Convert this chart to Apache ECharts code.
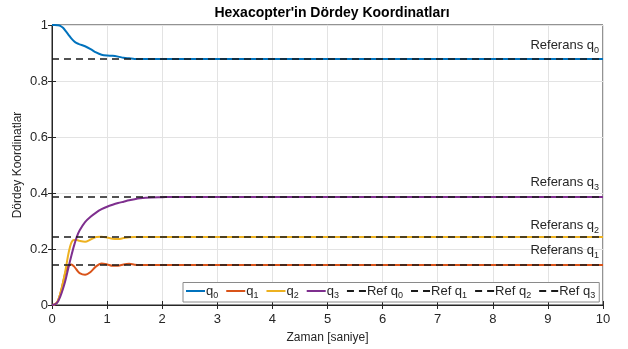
<!DOCTYPE html>
<html><head><meta charset="utf-8">
<script src="https://cdn.jsdelivr.net/npm/echarts@6/dist/echarts.min.js"></script>
<style>html,body{margin:0;padding:0;background:#fff}#c{width:628px;height:349px}</style>
</head><body><div id="c"></div>
<script>
const titleText = "Hexacopter'in Dördey Koordinatları";
const xName = 'Zaman [saniye]';
const yName = 'Dördey Koordinatlar';
const time = [0,0.05,0.1,0.15,0.2,0.25,0.3,0.35,0.4,0.45,0.5,0.6,0.7,0.8,0.9,1.0,1.1,1.2,1.3,1.4,1.5,1.6,1.8,2.0,2.2,2.5,3,4,5,6,7,8,9,10];
const q0 = [1,1,0.999,0.997,0.99,0.978,0.965,0.952,0.942,0.935,0.931,0.924,0.914,0.902,0.894,0.891,0.89,0.887,0.883,0.881,0.879,0.879,0.879,0.879,0.879,0.879,0.879,0.879,0.879,0.879,0.879,0.879,0.879,0.879];
const q1 = [0,0.002,0.012,0.04,0.08,0.12,0.14,0.145,0.138,0.125,0.114,0.108,0.118,0.138,0.148,0.145,0.14,0.14,0.145,0.147,0.144,0.143,0.143,0.143,0.143,0.143,0.143,0.143,0.143,0.143,0.143,0.143,0.143,0.143];
const q2 = [0,0.002,0.012,0.04,0.08,0.13,0.185,0.222,0.232,0.232,0.229,0.226,0.234,0.243,0.244,0.241,0.237,0.236,0.239,0.242,0.243,0.243,0.243,0.243,0.243,0.243,0.243,0.243,0.243,0.243,0.243,0.243,0.243,0.243];
const q3 = [0,0.002,0.01,0.03,0.058,0.093,0.135,0.175,0.212,0.243,0.266,0.296,0.315,0.33,0.342,0.351,0.358,0.364,0.369,0.374,0.378,0.381,0.384,0.385,0.386,0.386,0.386,0.386,0.386,0.386,0.386,0.386,0.386,0.386];
const refValues = [0.879, 0.143, 0.243, 0.386];
const refSpan = [0, 10];
const seriesNames = ['q0','q1','q2','q3'];
const refNames = ['Ref q0','Ref q1','Ref q2','Ref q3'];
const labelNames = ['Referans q0','Referans q1','Referans q2','Referans q3'];
const xTicks = {min:0, max:10, interval:1};
const yTicks = {min:0, max:1, interval:0.2};

const colors = ['#0072BD','#D95319','#EDB120','#7E2F8E'];
const font = 'Liberation Sans, Arial, sans-serif';
const axisColor = '#262626';
function sub(name){ const m = name.match(/^(.*q)(\d)$/); return '{t|'+m[1]+'}{s|'+m[2]+'}'; }
const richSub = {t:{fontSize:13, fontFamily:font, color:axisColor}, s:{fontSize:9, fontFamily:font, color:axisColor, padding:[9,0,0,0]}};

const curves = [q0,q1,q2,q3];
const series = [];
curves.forEach((arr,i)=>{
  series.push({name: seriesNames[i], type:'line', data: time.map((t,k)=>[t,arr[k]]), smooth:0.3, symbol:'none',
    lineStyle:{color:colors[i], width:2}, itemStyle:{color:colors[i]}, z:2});
});
const labelOffsets = [[0,0],[0,-2],[0,1],[0,0]];
refValues.forEach((v,i)=>{
  series.push({name: refNames[i], type:'line', data: refSpan.map(t=>[t,v]), symbol:'none',
    lineStyle:{color:'#1a1a1a', width:1.5, type:[7,5]}, itemStyle:{color:'#1a1a1a'}, z:3,
    markLine:{silent:true, symbol:'none', lineStyle:{color:'rgba(0,0,0,0)', width:0}, data:[{yAxis:v}],
      label:{show:true, position:'insideEndTop', distance:4, offset:labelOffsets[i], formatter: sub(labelNames[i]),
        color:axisColor, fontFamily:font, rich:richSub}}
  });
});

const chart = echarts.init(document.getElementById('c'), null, {renderer:'canvas'});
chart.setOption({
  animation:false,
  backgroundColor:'#fff',
  title:{text:titleText, left:327, textAlign:'center', top:1, textStyle:{fontFamily:font, fontSize:14, fontWeight:'bold', color:'#000'}},
  grid:{left:52, right:25, top:25, bottom:44, show:true, borderColor:axisColor, borderWidth:1},
  legend:{left:183, bottom:47, orient:'horizontal', itemWidth:19, itemHeight:10, itemGap:7,
    padding:[2,4,2,2], borderColor:'#8a8a8a', borderWidth:1, backgroundColor:'#fff',
    itemStyle:{opacity:0},
    data:[...seriesNames, ...refNames],
    formatter: n => sub(n),
    textStyle:{fontFamily:font, fontSize:13, color:axisColor, padding:[0,0,0,-4], rich:richSub}},
  xAxis:[{type:'value', min:xTicks.min, max:xTicks.max, interval:xTicks.interval, name:xName, nameLocation:'middle', nameGap:27,
    nameTextStyle:{fontFamily:font, fontSize:12, color:axisColor},
    axisLine:{show:true, lineStyle:{color:axisColor}}, axisTick:{show:true, inside:true, length:4, lineStyle:{color:axisColor}},
    axisLabel:{fontFamily:font, fontSize:13, color:axisColor, margin:8},
    splitLine:{show:true, lineStyle:{color:'#e3e3e3'}}},
    {type:'value', position:'top', min:xTicks.min, max:xTicks.max, interval:xTicks.interval,
    axisLine:{show:true, lineStyle:{color:axisColor}}, axisTick:{show:true, inside:true, length:4, lineStyle:{color:axisColor}},
    axisLabel:{show:false}, splitLine:{show:false}}],
  yAxis:[{type:'value', min:yTicks.min, max:yTicks.max, interval:yTicks.interval, name:yName, nameLocation:'middle', nameGap:28, nameRotate:90,
    nameMoveOverlap:false,
    nameTextStyle:{fontFamily:font, fontSize:12, color:axisColor},
    axisLine:{show:true, lineStyle:{color:axisColor}}, axisTick:{show:true, inside:true, length:4, lineStyle:{color:axisColor}},
    axisLabel:{fontFamily:font, fontSize:13, color:axisColor, margin:4, formatter: v => String(+v.toFixed(1))},
    splitLine:{show:true, lineStyle:{color:'#e3e3e3'}}},
    {type:'value', position:'right', min:yTicks.min, max:yTicks.max, interval:yTicks.interval,
    axisLine:{show:true, lineStyle:{color:axisColor}}, axisTick:{show:true, inside:true, length:4, lineStyle:{color:axisColor}},
    axisLabel:{show:false}, splitLine:{show:false}}],
  series: series
});
</script></body></html>
